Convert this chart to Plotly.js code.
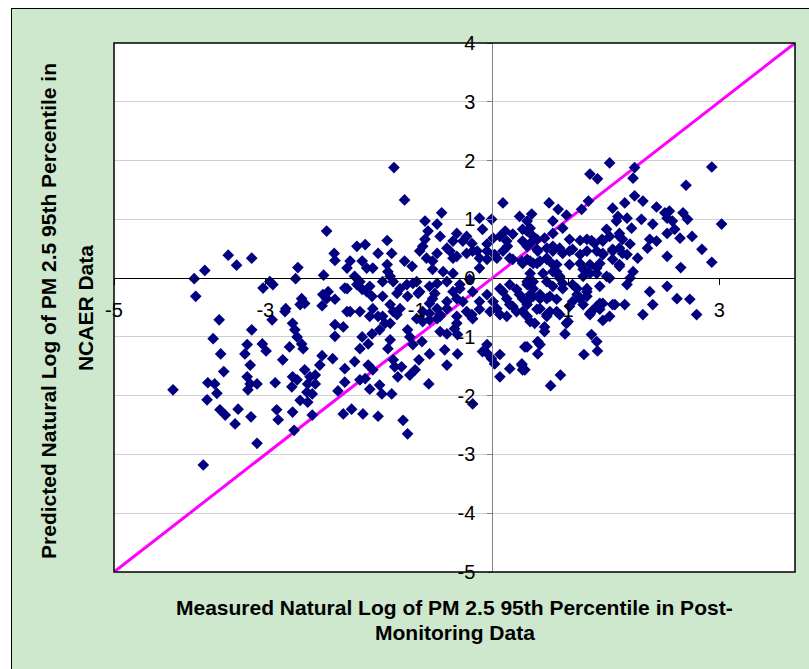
<!DOCTYPE html>
<html>
<head>
<meta charset="utf-8">
<script src="https://cdn.plot.ly/plotly-3.0.1.min.js"></script>
<style>
  html, body { margin: 0; padding: 0; background: #ffffff; }
  #frame { position: absolute; left: 11px; top: 8px; width: 820px; height: 690px;
           background: #cde8cd; border-left: 1px solid #000; border-top: 1px solid #000; }
  #chart { position: absolute; left: 0; top: 0; width: 809px; height: 669px; }
</style>
</head>
<body>
<div id="frame"></div>
<div id="chart"></div>
<script>
// Measured natural log (x) and predicted natural log (y)
const measured = [
 -2.19,-3.49,-3.38,-3.18,-3.80,-3.94,-3.92,-2.57,-2.60,-2.23,-2.09,-2.08,-1.92,-2.94,-2.90,-3.03,-1.95,-2.24,-2.17,-2.19,
 -2.52,-2.48,-2.54,-2.73,-2.74,-2.25,-3.61,-1.92,-3.69,-3.18,-2.91,-2.64,-2.61,-2.58,-2.08,-2.08,-3.24,-3.27,-3.04,-2.99,
 -2.68,-2.52,-2.50,-3.59,-3.20,-2.77,-2.25,-2.28,-2.11,-1.95,-3.55,-3.76,-3.67,-3.64,-4.22,-3.77,-3.24,-3.20,-3.11,-3.23,
 -2.87,-2.64,-2.58,-2.65,-2.48,-2.41,-2.34,-2.44,-2.34,-2.38,-2.45,-2.54,-2.44,-2.04,-1.95,-3.60,-3.53,-3.36,-3.40,-3.19,
 -2.85,-2.83,-2.64,-2.38,-2.62,-3.11,-3.82,-1.97,-1.51,-1.35,-1.49,-1.00,-0.92,-0.83,-0.73,-0.69,-1.97,-1.72,-1.59,-1.64,
 -1.75,-1.35,-1.38,-1.12,-1.09,-1.05,-0.93,-0.69,-0.60,-0.50,-0.46,-0.27,-0.07,-0.13,-0.06,-0.01,0.10,0.03,0.10,0.23,
 0.39,0.40,0.43,-1.82,-1.64,-1.58,-1.68,-1.75,-1.62,-1.49,-1.46,-1.33,-1.31,-1.29,-1.20,-1.25,-1.09,-1.02,-0.97,-0.83,
 -0.63,-0.60,-0.46,-0.84,-1.86,-1.71,-1.51,-1.18,-1.12,-0.26,-1.30,-1.16,-0.67,0.14,-0.89,-0.73,-0.85,-0.89,-0.17,-0.01,
 -0.13,-1.39,-1.79,-1.51,-1.33,-0.96,-0.87,-0.79,-0.47,-0.39,-0.34,-0.27,-0.07,0.01,0.10,0.19,0.27,0.36,0.46,-1.88,
 -1.72,-1.66,-1.58,-1.39,-1.38,-1.16,-0.56,-0.52,-0.26,-0.17,-0.07,0.03,0.14,0.23,0.39,-1.92,-1.75,-1.66,-1.45,-1.31,
 -1.22,-1.00,-0.96,-0.83,-0.79,-0.60,-0.52,-0.47,-0.43,-0.26,-0.17,-0.07,0.01,0.14,0.23,0.36,0.46,-1.88,-1.58,-1.35,
 -1.45,-1.26,-0.92,-0.69,-0.60,-0.47,-0.34,-0.26,-0.03,0.10,0.32,1.55,2.90,1.29,1.39,1.88,1.86,2.56,0.75,0.87,
 0.98,0.52,1.18,1.27,1.59,1.75,1.88,1.99,1.66,1.78,1.64,1.97,2.17,2.28,2.34,2.31,2.38,2.52,2.58,3.03,
 0.80,0.80,1.84,2.12,1.51,0.46,0.40,0.59,0.69,1.02,1.16,1.31,1.45,1.55,1.68,1.72,1.82,2.08,2.17,2.31,
 2.41,2.48,2.64,2.77,2.05,2.31,2.49,2.90,0.60,0.72,0.80,0.89,1.02,1.16,1.25,1.38,1.46,1.59,1.68,1.78,
 1.92,0.50,0.63,0.72,0.80,0.85,0.89,1.20,1.29,1.38,1.55,1.68,1.86,1.82,1.78,0.46,0.54,0.63,0.72,0.93,
 1.12,1.25,1.16,1.06,1.42,2.08,2.12,2.31,2.44,2.61,1.42,1.31,1.62,1.75,1.99,2.70,0.89,0.76,0.63,0.46,
 0.46,0.56,0.72,0.69,0.69,0.98,0.96,1.29,1.46,1.31,1.38,1.39,1.21,0.60,0.63,0.46,0.60,0.39,0.43,0.90,
 0.77,
 -1.68,-1.35,-1.06,-0.92,-1.82,-1.79,-1.72,-1.62,-1.59,-2.08,-1.26,-1.13,-1.05,-0.98,-1.12,-1.45,-1.22,-1.31,-1.75,-1.42,
 -1.62,-0.83,-0.83,
 0.17,0.50,-0.69,-0.52,0.20,0.50,-0.73,-0.60,-0.47,-0.34,-0.20,-0.07,-0.17,0.06,0.27,0.40,0.54,-0.79,-0.65,-0.52,
 -0.30,-0.43,-0.73,-0.76,0.10,0.23,0.32,0.46,0.54,0.19,0.40,0.54,-0.73,-0.60,-0.39,-0.17,-0.30,0.06,0.19,0.27,
 0.40,-0.47,0.50,
 0.40,0.54,0.93,1.25,1.35,1.46,1.68,0.46,0.59,0.80,0.93,1.06,1.46,1.59,1.72,0.46,0.59,0.72,0.85,1.02,
 1.16,1.29,1.42,1.59,1.68,0.50,0.67,0.80,0.89,1.20,1.38,1.51,0.72,0.80,0.93,1.06,1.25,0.50,0.63,0.76,
 0.85,1.12,1.25,1.38,1.46,1.59,0.59,0.85,1.02,1.20,0.72,1.00,1.29,1.42,1.55
];
const predicted = [
 0.80,0.39,0.22,0.34,0.13,-0.01,-0.31,0.18,-0.01,0.05,0.42,0.30,0.17,-0.06,-0.11,-0.17,-0.17,-0.28,-0.23,-0.35,
 -0.35,-0.43,-0.45,-0.52,-0.57,-0.47,-0.71,-0.57,-1.03,-0.88,-0.71,-0.77,-0.88,-1.00,-0.79,-0.99,-1.13,-1.29,-1.12,-1.24,
 -1.17,-1.12,-1.20,-1.29,-1.48,-1.39,-1.32,-1.48,-1.37,-1.54,-1.59,-1.78,-1.80,-1.96,-1.90,-2.07,-1.68,-1.80,-1.80,-1.90,
 -1.78,-1.68,-1.73,-1.85,-1.56,-1.68,-1.65,-1.80,-1.80,-1.97,-1.94,-2.08,-2.11,-1.92,-1.77,-2.24,-2.33,-2.23,-2.48,-2.36,
 -2.24,-2.41,-2.28,-2.33,-2.59,-2.81,-3.18,-2.31,-0.65,-0.77,-0.88,-0.69,-0.74,-0.71,-0.69,-0.65,-0.83,-1.00,-0.95,-1.12,
 -1.20,-1.05,-1.20,-0.88,-1.00,-1.13,-1.08,-0.91,-0.95,-0.86,-0.96,-0.62,-1.13,-1.25,-1.29,-1.37,-1.30,-1.46,-1.68,-1.54,
 -1.46,-1.56,-1.17,-1.42,-1.48,-1.56,-1.71,-1.73,-1.89,-1.82,-1.97,-1.97,-1.39,-1.51,-1.51,-1.68,-1.65,-1.56,-1.39,-1.29,
 -1.22,-1.48,-1.29,-1.80,-2.23,-2.31,-2.35,-2.42,-2.65,-2.14,1.88,1.33,1.11,1.28,0.97,0.92,0.80,0.66,1.02,1.00,
 0.83,0.64,0.54,0.42,0.42,0.46,0.34,0.29,0.76,0.63,0.71,0.59,0.58,0.68,0.71,0.63,0.75,1.05,0.97,0.29,
 0.29,0.17,0.17,0.23,0.11,0.29,0.46,0.34,0.46,0.34,0.46,0.40,0.46,0.34,0.29,-0.18,-0.06,-0.23,-0.06,-0.06,
 -0.18,-0.06,-0.23,-0.14,-0.35,-0.06,-0.23,-0.35,-0.18,-0.23,-0.40,-0.28,-0.40,-0.23,-0.45,-0.28,-0.40,-0.57,-0.52,-0.45,
 -0.65,-0.62,-0.57,-0.62,-0.52,-0.65,-0.57,-0.69,-0.57,-0.62,-0.57,1.96,1.89,1.77,1.69,1.88,1.70,1.58,1.28,1.17,
 1.07,1.09,1.17,1.31,1.19,1.28,1.40,1.31,1.05,1.02,0.97,1.00,1.21,1.11,1.14,1.02,0.97,1.11,1.00,0.92,
 0.97,0.76,0.85,0.92,0.83,0.80,0.63,0.66,0.68,0.66,0.64,0.64,0.66,0.71,0.71,0.66,0.58,0.66,0.63,0.76,
 0.83,0.68,0.71,0.49,0.51,0.37,0.18,0.27,0.46,0.51,0.46,0.51,0.46,0.40,0.46,0.46,0.40,0.46,0.51,0.40,
 0.34,0.29,0.29,0.34,0.23,0.11,0.00,0.03,0.08,0.17,0.00,0.23,0.11,0.00,-0.11,-0.06,-0.18,-0.28,-0.35,-0.18,
 -0.18,-0.23,-0.35,-0.40,-0.14,-0.23,-0.45,-0.14,-0.35,-0.36,-0.43,-0.57,-0.45,-0.45,-0.62,-0.62,-0.62,-0.57,-0.52,-0.45,
 -0.65,-0.77,-0.62,-0.83,-0.91,-0.77,-0.95,-0.60,-0.72,-0.96,-1.08,-1.24,-1.30,-1.08,-1.13,-1.17,-1.29,-1.48,-1.56,-1.65,
 -1.83,
 0.57,0.03,0.20,0.54,0.03,-0.11,-0.19,-0.14,-0.31,-0.36,-0.26,-0.11,-0.09,-0.26,-0.31,-0.31,-0.52,-0.57,-0.57,-0.77,
 -0.65,-0.43,-0.60,
 0.80,0.85,0.71,0.63,0.54,0.59,0.42,0.51,0.37,0.42,0.46,0.32,0.17,0.34,0.32,0.25,0.25,0.15,0.11,0.08,
 -0.02,-0.11,-0.09,-0.26,-0.18,-0.11,-0.19,-0.11,-0.06,-0.35,-0.35,-0.31,-0.52,-0.40,-0.40,-0.53,-0.62,-0.52,-0.65,-0.48,
 -0.57,-0.77,-0.74,
 0.83,0.71,0.85,0.66,0.59,0.63,0.76,0.54,0.49,0.54,0.42,0.49,0.42,0.49,0.42,0.32,0.25,0.32,0.23,0.23,
 0.25,0.23,0.25,0.32,0.20,0.08,0.08,0.11,0.03,0.15,0.08,0.03,-0.06,-0.14,-0.09,-0.11,-0.18,-0.28,-0.35,-0.31,
 -0.36,-0.28,-0.31,-0.48,-0.43,-0.45,-0.53,-0.57,-0.48,-0.45,-0.65,-0.74,-0.62,-0.53,-0.65
];
// 1:1 reference line
const lineX = [-5, 4];
const lineY = [-5, 4];
const yTicks = [-5, -4, -3, -2, -1, 0, 1, 2, 3, 4];
const xTicks = [-5, -3, -1, 1, 3];

const FONT = 'Liberation Sans, Arial, sans-serif';

const traces = [
  { x: lineX, y: lineY, type: 'scatter', mode: 'lines',
    line: { color: '#ff00ff', width: 3 }, hoverinfo: 'skip', showlegend: false },
  { x: measured, y: predicted, type: 'scatter', mode: 'markers',
    marker: { symbol: 'diamond', size: 9, color: '#000080', line: { width: 0 } },
    showlegend: false }
];

const layout = {
  width: 809, height: 669,
  paper_bgcolor: 'rgba(0,0,0,0)',
  plot_bgcolor: '#ffffff',
  margin: { l: 114, r: 14, t: 43, b: 97, pad: 0 },
  showlegend: false,
  font: { family: FONT, color: '#000' },
  xaxis: {
    range: [-5, 4], tickvals: xTicks, ticktext: xTicks.map(String),
    anchor: 'free', position: 5/9,
    showline: true, linecolor: '#000', linewidth: 1,
    ticks: 'outside', ticklen: 6, tickcolor: '#000', tickwidth: 1,
    ticklabelstandoff: 8,
    showgrid: false, zeroline: false,
    tickfont: { family: FONT, size: 20, color: '#000' }
  },
  yaxis: {
    range: [-5, 4], tickvals: yTicks, ticktext: yTicks.map(String),
    anchor: 'free', position: 5/9,
    showline: true, linecolor: '#808080', linewidth: 1,
    ticks: 'outside', ticklen: 5, tickcolor: '#808080', tickwidth: 1,
    ticklabelstandoff: 8,
    showgrid: true, gridcolor: '#d0d0d0', gridwidth: 1, zeroline: false,
    tickfont: { family: FONT, size: 20, color: '#000' }
  },
  shapes: [
    { type: 'rect', xref: 'paper', yref: 'paper', x0: 0, y0: 0, x1: 1, y1: 1,
      line: { color: '#000', width: 1.5 }, fillcolor: 'rgba(0,0,0,0)', layer: 'above' }
  ],
  annotations: [
    { xref: 'paper', yref: 'paper', x: 0.5007, y: -0.068, xanchor: 'center', yanchor: 'middle',
      showarrow: false,
      text: '<b>Measured Natural Log of PM 2.5 95th Percentile in Post-</b>',
      font: { family: FONT, size: 21, color: '#000' } },
    { xref: 'paper', yref: 'paper', x: 0.5007, y: -0.1153, xanchor: 'center', yanchor: 'middle',
      showarrow: false,
      text: '<b>Monitoring Data</b>',
      font: { family: FONT, size: 21, color: '#000' } },
    { xref: 'paper', yref: 'paper', x: -0.0955, y: 0.4934, xanchor: 'center', yanchor: 'middle',
      showarrow: false, textangle: -90,
      text: '<b>Predicted Natural Log of PM 2.5 95th Percentile in</b>',
      font: { family: FONT, size: 21, color: '#000' } },
    { xref: 'paper', yref: 'paper', x: -0.0425, y: 0.499, xanchor: 'center', yanchor: 'middle',
      showarrow: false, textangle: -90,
      text: '<b>NCAER Data</b>',
      font: { family: FONT, size: 21, color: '#000' } }
  ]
};

Plotly.newPlot('chart', traces, layout, { staticPlot: true, displayModeBar: false });
</script>
</body>
</html>
